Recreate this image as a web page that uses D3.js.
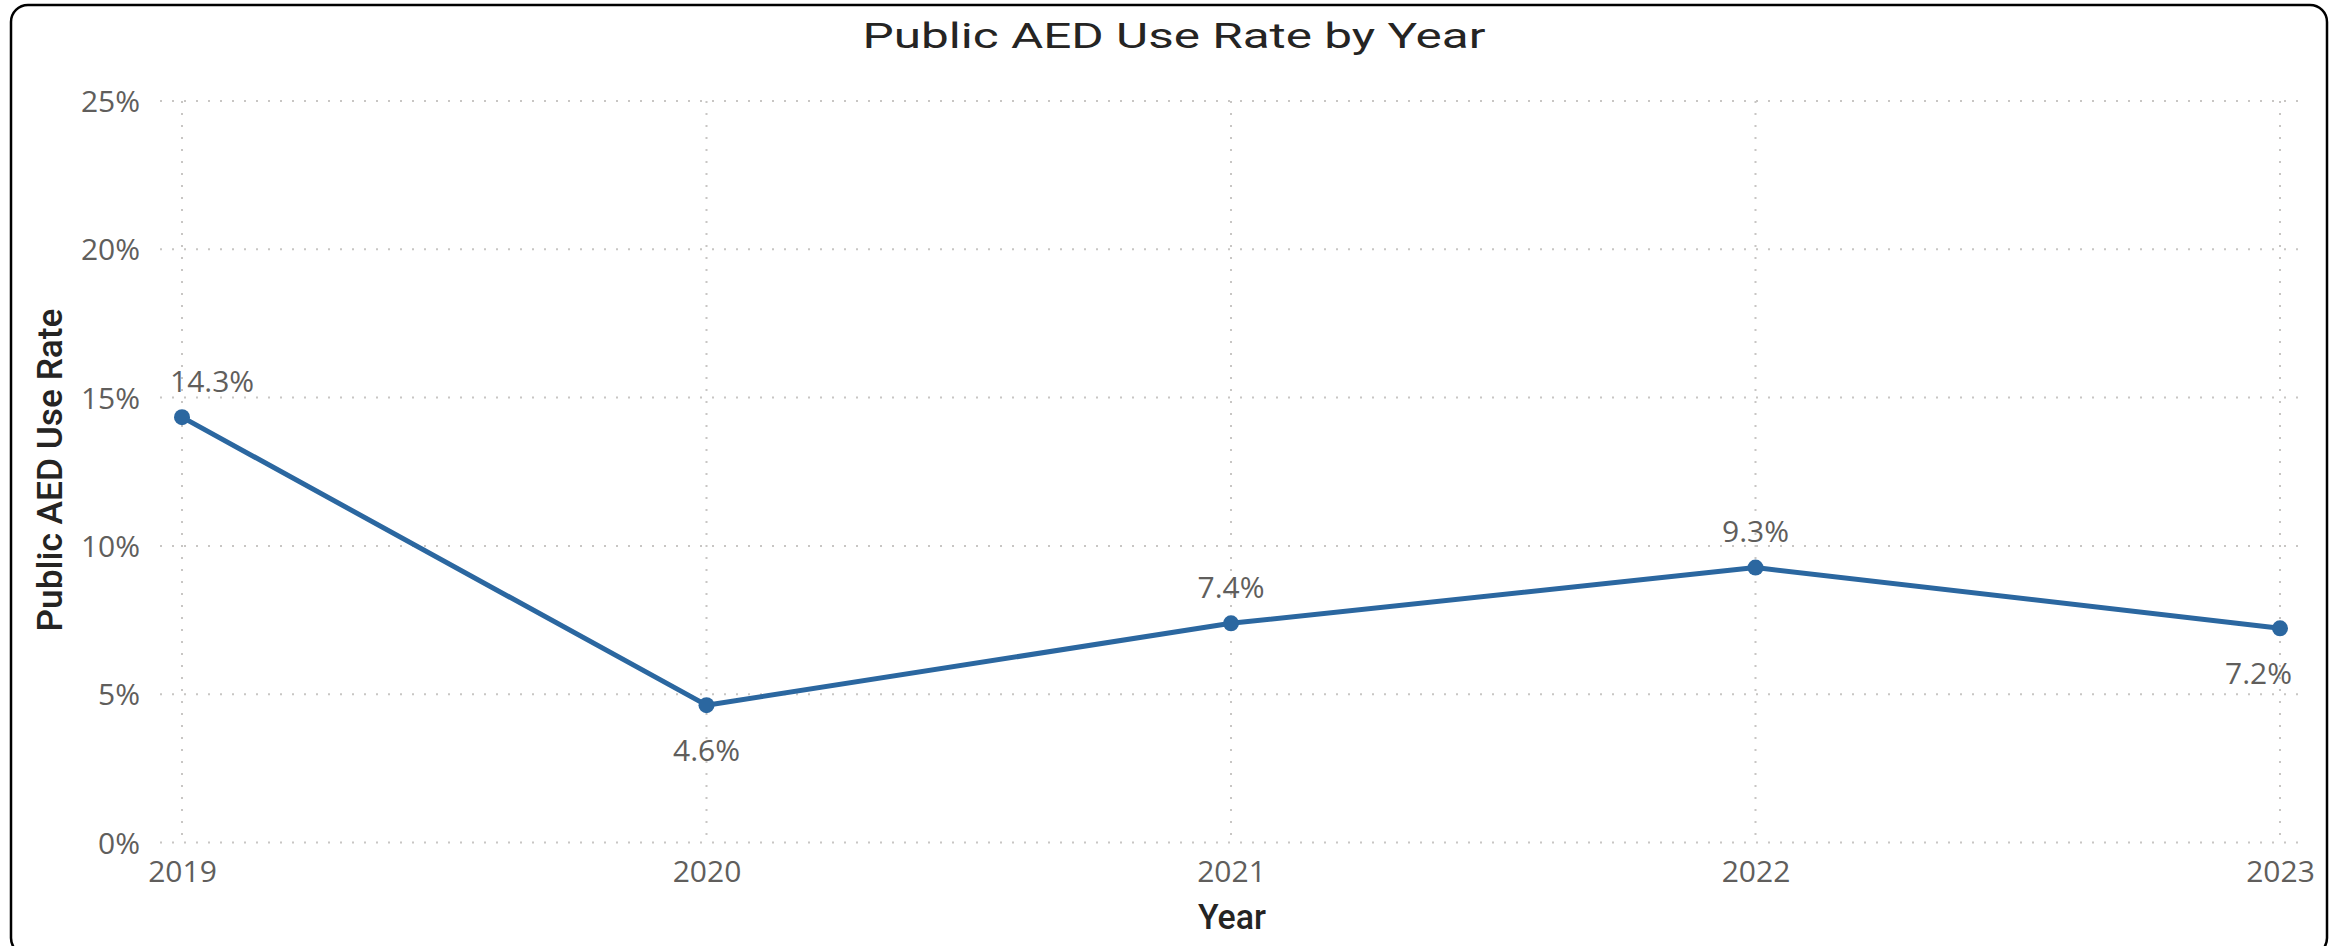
<!DOCTYPE html>
<html>
<head>
<meta charset="utf-8">
<script src="https://cdn.jsdelivr.net/npm/d3@7"></script>
<style>
  html, body { margin: 0; padding: 0; background: #fff; }
  svg { display: block; }
</style>
</head>
<body>
<div id="chart"></div>
<script>
// ---- data ----
const years = ["2019", "2020", "2021", "2022", "2023"];
const useRate = [0.1434, 0.0463, 0.0739, 0.0927, 0.0722];
const labelPos = ["above", "below", "above", "above", "below"];
const yTicks = [0, 0.05, 0.10, 0.15, 0.20, 0.25];
const chartTitle = "Public AED Use Rate by Year";
const xTitle = "Year";
const yTitle = "Public AED Use Rate";

const W = 2336, H = 946;
const svg = d3.select("#chart").append("svg").attr("width", W).attr("height", H);

// frame
svg.append("rect")
  .attr("x", 11).attr("y", 5).attr("width", 2316).attr("height", 950)
  .attr("rx", 17).attr("ry", 17)
  .attr("fill", "#fff").attr("stroke", "#000").attr("stroke-width", 2.5);

const plotL = 160, plotR = 2300, plotT = 101, plotB = 842.5;

const x = d3.scalePoint().domain(years).range([182, 2280]);
const y = d3.scaleLinear().domain([0, 0.25]).range([plotB, plotT]);

const gridColor = "#c8c6c4";
// horizontal grid
svg.append("g").selectAll("line").data(yTicks).join("line")
  .attr("x1", plotL).attr("x2", plotR)
  .attr("y1", d => y(d)).attr("y2", d => y(d))
  .attr("stroke", gridColor).attr("stroke-width", 2)
  .attr("stroke-dasharray", "2,10");
// vertical grid
svg.append("g").selectAll("line").data(years).join("line")
  .attr("x1", d => x(d)).attr("x2", d => x(d))
  .attr("y1", plotT).attr("y2", plotB)
  .attr("stroke", gridColor).attr("stroke-width", 2)
  .attr("stroke-dasharray", "2,10");

const tickFont = "'Open Sans', 'Noto Sans', sans-serif";
const tickColor = "#605E5C";

// y axis
const yAxis = d3.axisLeft(y).tickValues(yTicks).tickFormat(d3.format(".0%")).tickSize(0).tickPadding(0);
const gy = svg.append("g").attr("transform", `translate(140,0)`).call(yAxis);
gy.select(".domain").remove();
gy.selectAll("text").attr("font-family", tickFont).attr("font-size", 30)
  .attr("fill", tickColor).attr("dy", "0.35em");

// x axis
const xAxis = d3.axisBottom(x).tickSize(0).tickPadding(0);
const gx = svg.append("g").attr("transform", `translate(0,871)`).call(xAxis);
gx.select(".domain").remove();
gx.selectAll("text").attr("font-family", tickFont).attr("font-size", 30)
  .attr("fill", tickColor).attr("dy", "0.35em");

// line
const pts = years.map((yr, i) => ({ yr, v: useRate[i], pos: labelPos[i] }));
svg.append("path").datum(pts)
  .attr("fill", "none").attr("stroke", "#2B67A0").attr("stroke-width", 5)
  .attr("stroke-linejoin", "round")
  .attr("d", d3.line().x(d => x(d.yr)).y(d => y(d.v)));
svg.append("g").selectAll("circle").data(pts).join("circle")
  .attr("cx", d => x(d.yr)).attr("cy", d => y(d.v)).attr("r", 8)
  .attr("fill", "#2B67A0");

// data labels (kept inside the plot area)
const fmt = d3.format(".1%");
const lbls = svg.append("g").selectAll("text").data(pts).join("text")
  .attr("font-family", tickFont).attr("font-size", 30).attr("fill", tickColor)
  .attr("text-anchor", "middle").attr("dy", "0.35em")
  .attr("y", d => y(d.v) + (d.pos === "above" ? -36 : 45))
  .text(d => fmt(d.v));
lbls.each(function(d) {
  const w = this.getComputedTextLength();
  let cx = x(d.yr);
  cx = Math.max(cx, 170 + w / 2);
  cx = Math.min(cx, 2292 - w / 2);
  d3.select(this).attr("x", cx);
});

// titles
const titleFont = "'Roboto', 'DejaVu Sans', sans-serif";
svg.append("text").attr("x", 1174).attr("y", 48)
  .attr("text-anchor", "middle").attr("font-family", titleFont)
  .attr("font-size", 35).attr("font-weight", 400).attr("fill", "#252423")
  .attr("textLength", 623).attr("lengthAdjust", "spacingAndGlyphs")
  .text(chartTitle);

svg.append("text").attr("x", 1232).attr("y", 929)
  .attr("text-anchor", "middle").attr("font-family", titleFont)
  .attr("font-size", 35).attr("font-weight", 500).attr("fill", "#252423")
  .attr("textLength", 68).attr("lengthAdjust", "spacingAndGlyphs")
  .text(xTitle);

svg.append("text")
  .attr("transform", `translate(62,470) rotate(-90)`)
  .attr("text-anchor", "middle").attr("font-family", titleFont)
  .attr("font-size", 35).attr("font-weight", 500).attr("fill", "#252423")
  .attr("textLength", 323).attr("lengthAdjust", "spacingAndGlyphs")
  .text(yTitle);
</script>
</body>
</html>
